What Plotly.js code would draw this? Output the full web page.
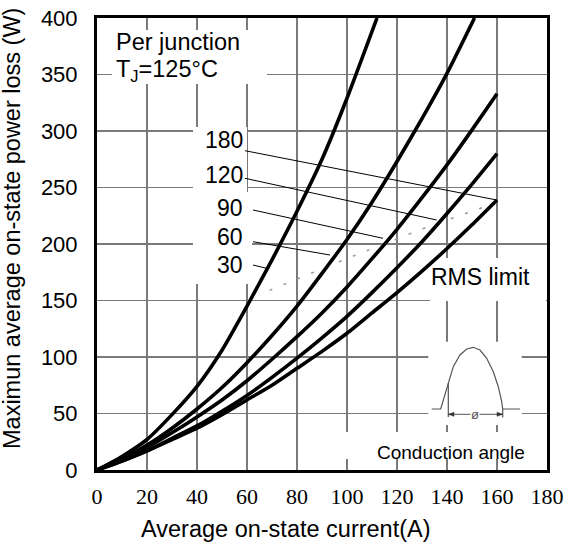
<!DOCTYPE html>
<html>
<head>
<meta charset="utf-8">
<script src="https://cdn.plot.ly/plotly-3.0.1.min.js"></script>
<style>
html,body{margin:0;padding:0;background:#fff;}
#chart{width:568px;height:549px;}
</style>
</head>
<body>
<div id="chart"></div>
<script>
// ---- data ----
const I_30  = [0,10,20,30,40,50,60,70,80,90,100,112];
const P_30  = [0,12,27,49,74,106,145,186,229,275,329,400];
const I_60  = [0,10,20,30,40,50,60,70,80,90,100,110,120,130,140,151];
const P_60  = [0,10,22,37,54,73,95,119,145,174,204,237,273,311,351,400];
const I_90  = [0,10,20,30,40,50,60,70,80,90,100,110,120,130,140,150,160];
const P_90  = [0,9,20,33,47,62,79,98,118,139,162,187,213,241,270,301,333];
const I_120 = [0,10,20,30,40,50,60,70,80,90,100,110,120,130,140,150,160];
const P_120 = [0,8,17,28,39,52,66,82,99,117,136,157,179,202,227,253,280];
const I_180 = [0,10,20,30,40,50,60,70,80,90,100,110,120,130,140,150,160];
const P_180 = [0,8,17,27,37,49,62,75,90,105,121,139,157,176,196,217,239];
const I_rms = [69,101,132,159,160];
const P_rms = [159,188,215,236,238];
const angleLabels = ['180','120','90','60','30'];
const xTicks = [0,20,40,60,80,100,120,140,160,180];
const yTicks = [0,50,100,150,200,250,300,350,400];

// ---- geometry helpers (pixel -> data) ----
const L=97, R=547, T=18, B=470;
const px = p => (p-L)/(R-L)*180;
const py = p => (B-p)/(B-T)*400;

const SANS = 'Liberation Sans, Arial, sans-serif';
const SERIF = 'Liberation Serif, Times New Roman, serif';

function curve(xs, ys){
  return {x:xs, y:ys, mode:'lines', type:'scatter', line:{color:'#000', width:3.6, shape:'spline', smoothing:0.6}, hoverinfo:'skip', showlegend:false};
}
const traces = [
  {x:I_rms, y:P_rms, mode:'lines', type:'scatter', line:{color:'#999', width:1.5, dash:'3px,12px'}, showlegend:false, hoverinfo:'skip'},
  curve(I_30,P_30), curve(I_60,P_60), curve(I_90,P_90), curve(I_120,P_120), curve(I_180,P_180)
];

function box(x0,x1,y0,y1){
  return {type:'rect', xref:'x', yref:'y', x0:px(x0), x1:px(x1), y0:py(y1), y1:py(y0), fillcolor:'#fff', line:{width:0}, layer:'between'};
}
function seg(x0,y0,x1,y1,color,w){
  return {type:'line', xref:'x', yref:'y', x0:px(x0), y0:py(y0), x1:px(x1), y1:py(y1), line:{color:color||'#000', width:w||1}, layer:'above'};
}
function pathPx(pts, close){
  let d = pts.map((p,i)=>(i?'L':'M')+px(p[0]).toFixed(3)+','+py(p[1]).toFixed(3)).join(' ');
  if(close) d += ' Z';
  return d;
}

const shapes = [
  box(112,267,30,84),     // Per junction
  box(193,247,127,192),   // 180/120 labels
  box(193,252,192,284),   // 90/60/30 labels
  box(430,546,258,301),   // RMS limit
  box(428.3,521.7,341.7,425), // inset
  box(340,546,432,459),   // Conduction angle
  // leaders
  seg(245,150.7, 496.7,200),
  seg(245,178.3, 436.7,220),
  seg(253,210,   383,238.3),
  seg(253,241.7, 330,255),
  seg(253,265,   266.7,268.3),
  // inset drawing
  {type:'path', xref:'x', yref:'y', layer:'above', line:{color:'#555', width:1.2},
   path: pathPx([[431.7,409],[440.7,409],[448.3,383.3],[453.3,366.7],[460,355],[466.7,349],[473.3,347.3],[480,350],[486.7,358.3],[493.3,371.7],[498.3,386.7],[501.7,401.7],[502.7,409],[520,409]])},
  seg(448.3,383.3,448.3,417,'#555',1.2),
  seg(502.7,409,502.7,417.5,'#555',1.2),
  seg(448.3,414.3,502.7,414.3,'#555',1),
  {type:'path', xref:'x', yref:'y', layer:'above', fillcolor:'#333', line:{color:'#333',width:0.5},
   path: pathPx([[448.3,414.3],[454,412.3],[454,416.3]], true)},
  {type:'path', xref:'x', yref:'y', layer:'above', fillcolor:'#333', line:{color:'#333',width:0.5},
   path: pathPx([[502.7,414.3],[497,412.3],[497,416.3]], true)}
];

function txt(text, x, y, anchor, size, extra){
  return Object.assign({text:text, xref:'x', yref:'y', x:px(x), y:py(y), xanchor:anchor, yanchor:'middle', showarrow:false, font:{family:SANS, size:size, color:'#000'}, borderpad:0}, extra||{});
}
const labelY = [140,175,208,237,265];
const annotations = [
  txt('Per junction', 115, 42, 'left', 23.5),
  txt('T<sub>J</sub>=125°C', 115, 70, 'left', 23.5),
  txt('RMS limit', 430, 277, 'left', 23),
  txt('Conduction angle', 376, 452, 'left', 19),
  txt('ø', 475, 414.3, 'center', 13, {bgcolor:'#fff', font:{family:SANS,size:13,color:'#555'}}),
  {text:'Average on-state current(A)', xref:'paper', yref:'paper', x:(286-L)/(R-L), y:(B-529)/(B-T), xanchor:'center', yanchor:'middle', showarrow:false, font:{family:SANS,size:23.5,color:'#000'}},
  {text:'Maximun average on-state power loss (W)', xref:'paper', yref:'paper', x:(12-L)/(R-L), y:(B-229)/(B-T), xanchor:'center', yanchor:'middle', textangle:-90, showarrow:false, font:{family:SANS,size:23.5,color:'#000'}}
];
angleLabels.forEach((t,i)=>annotations.push(txt(t, 244, labelY[i], 'right', 23)));

const layout = {
  width:568, height:549,
  margin:{l:L, r:568-R, t:T, b:549-B, pad:0},
  paper_bgcolor:'#fff', plot_bgcolor:'#fff',
  showlegend:false,
  xaxis:{range:[0,180], tickvals:xTicks, ticktext:xTicks.map(String), showgrid:true, gridcolor:'#7a7a7a', gridwidth:1.5,
         zeroline:false, showline:true, mirror:true, linecolor:'#000', linewidth:3, ticks:'', ticklabelstandoff:5,
         tickfont:{family:SERIF, size:22, color:'#000'}, fixedrange:true},
  yaxis:{range:[0,400], tickvals:yTicks, ticktext:yTicks.map(String), showgrid:true, gridcolor:'#7a7a7a', gridwidth:1.5,
         zeroline:false, showline:true, mirror:true, linecolor:'#000', linewidth:3, ticks:'', ticklabelstandoff:12,
         tickfont:{family:SANS, size:22, color:'#000'}, fixedrange:true},
  shapes:shapes,
  annotations:annotations
};
Plotly.newPlot('chart', traces, layout, {displayModeBar:false, staticPlot:true});
</script>
</body>
</html>
